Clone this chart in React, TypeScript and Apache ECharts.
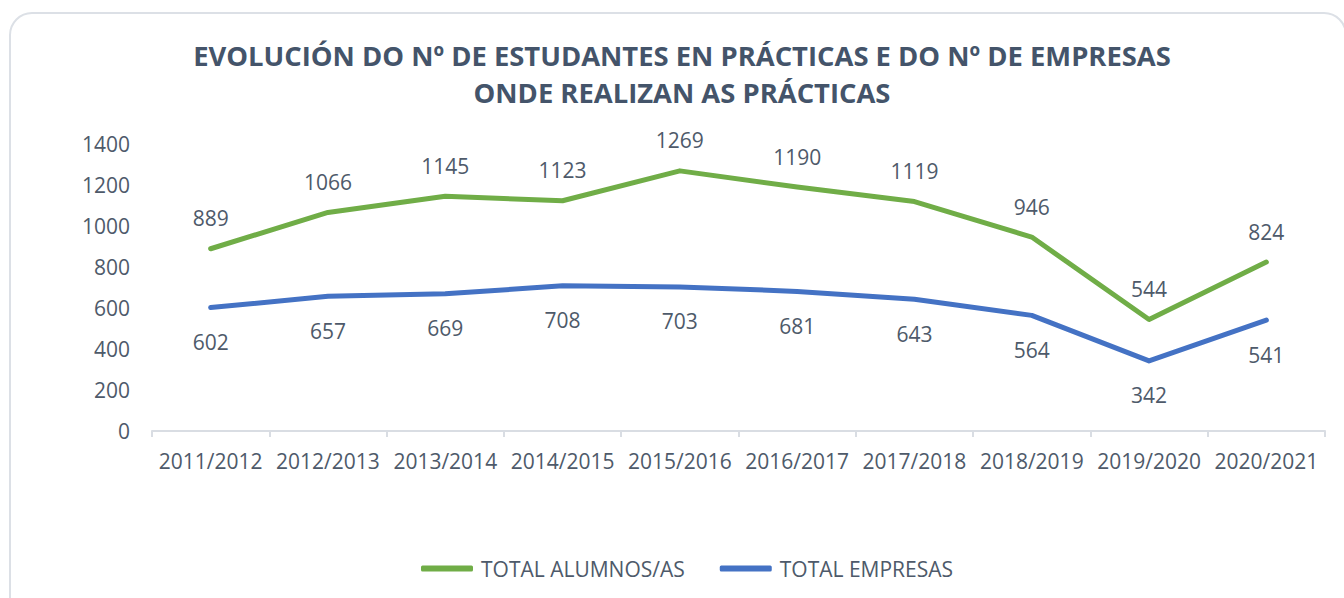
import React, { useEffect, useRef } from "react";
import * as echarts from "echarts";

const categories = ["2011/2012", "2012/2013", "2013/2014", "2014/2015", "2015/2016", "2016/2017", "2017/2018", "2018/2019", "2019/2020", "2020/2021"];
const alumnos = [889, 1066, 1145, 1123, 1269, 1190, 1119, 946, 544, 824];
const empresas = [602, 657, 669, 708, 703, 681, 643, 564, 342, 541];
const titleLines = ["EVOLUCIÓN DO Nº DE ESTUDANTES EN PRÁCTICAS E DO Nº DE EMPRESAS", "ONDE REALIZAN AS PRÁCTICAS"];

const FONT = "'Open Sans', 'Liberation Sans', sans-serif";
const TEXT = "#4E5A6A";

export default function App() {
  const ref = useRef<HTMLDivElement>(null);
  useEffect(() => {
    const chart = echarts.init(ref.current!, null, { renderer: "svg" });
    chart.setOption({
      animation: false,
      backgroundColor: "#ffffff",
      textStyle: { fontFamily: FONT },
      graphic: [
        {
          type: "rect",
          shape: { x: 10, y: 13, width: 1336, height: 620, r: 22 },
          style: { fill: "none", stroke: "#DCE0E6", lineWidth: 2 },
          silent: true,
        },
        {
          type: "text",
          x: 682,
          y: 55,
          style: { text: titleLines[0], fill: "#44546A", font: `bold 27.4px ${FONT}`, textAlign: "center", textVerticalAlign: "middle" },
        },
        {
          type: "text",
          x: 682,
          y: 92,
          style: { text: titleLines[1], fill: "#44546A", font: `bold 27.4px ${FONT}`, textAlign: "center", textVerticalAlign: "middle" },
        },
      ],
      legend: {
        left: 416,
        top: 553,
        itemWidth: 52,
        itemHeight: 6,
        itemGap: 35,
        icon: "roundRect",
        textStyle: { color: TEXT, fontSize: 21, fontFamily: FONT, padding: [0, 0, 0, 3] },
        data: ["TOTAL ALUMNOS/AS", "TOTAL EMPRESAS"],
      },
      grid: { left: 152, right: 19, top: 144, bottom: 167 },
      xAxis: {
        type: "category",
        data: categories,
        boundaryGap: true,
        axisLine: { show: true, lineStyle: { color: "#D9DDE3", width: 2 } },
        axisTick: { show: true, length: 6, lineStyle: { color: "#D9DDE3", width: 2 } },
        axisLabel: { color: TEXT, fontSize: 21, fontFamily: FONT, margin: 19, interval: 0 },
        splitLine: { show: false },
      },
      yAxis: {
        type: "value",
        min: 0,
        max: 1400,
        interval: 200,
        axisLine: { show: false },
        axisTick: { show: false },
        splitLine: { show: false },
        axisLabel: { color: TEXT, fontSize: 21, fontFamily: FONT, margin: 22, formatter: (v: number) => String(v) },
      },
      series: [
        {
          name: "TOTAL ALUMNOS/AS",
          type: "line",
          data: alumnos,
          symbol: "circle",
          symbolSize: 2,
          showSymbol: true,
          itemStyle: { color: "#70AD47" },
          color: "#70AD47",
          lineStyle: { width: 5, color: "#70AD47", cap: "round", join: "round" },
          label: { show: true, position: "top", distance: 19, color: TEXT, fontSize: 21, fontFamily: FONT },
        },
        {
          name: "TOTAL EMPRESAS",
          type: "line",
          data: empresas,
          symbol: "circle",
          symbolSize: 2,
          showSymbol: true,
          itemStyle: { color: "#4472C4" },
          color: "#4472C4",
          lineStyle: { width: 5, color: "#4472C4", cap: "round", join: "round" },
          label: { show: true, position: "bottom", distance: 23, color: TEXT, fontSize: 21, fontFamily: FONT },
        },
      ],
    });
    return () => chart.dispose();
  }, []);
  return <div ref={ref} style={{ position: "fixed", left: 0, top: 0, width: 1344, height: 598 }} />;
}
